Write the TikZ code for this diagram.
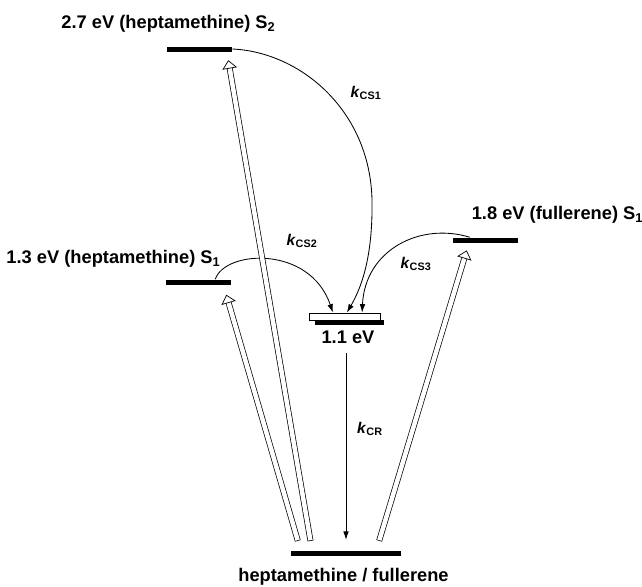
\documentclass[tikz,border=0pt]{standalone}
\usepackage{fontspec}
\setmainfont{Liberation Sans}
\usetikzlibrary{arrows.meta}

\newcommand*{\barLen}{1.625cm}
\newcommand*{\barHt}{0.125cm}
\newcommand*{\rateK}[1]{\textit{k}\textsubscript{#1}}

\tikzset{
	lvl/.style={fill=black, inner sep=0pt, minimum height=\barHt, minimum width=\barLen},
	lbl/.style={font=\fontsize{13}{15}\selectfont\bfseries, inner sep=1pt},
	rate/.style={font=\fontsize{11}{13}\selectfont\bfseries, inner sep=1pt},
	transfer/.style={line width=0.6pt, -{Latex[length=6pt,width=4pt]}},
	shaft/.style={double=white, double distance=3.2pt, line width=0.5pt, line cap=rect, shorten >=5pt},
	head/.style={white, line width=0.5pt, -{Triangle[open, black, fill=white, length=6pt, width=10.5pt]}}
}

\begin{document}
\begin{tikzpicture}[x=0.025cm, y=-0.025cm]
	\useasboundingbox (0,0) rectangle (642,586);

	% energy levels
	\node [lvl] (s2h) at (199.5,49) {};
	\node [lvl] (s1h) at (198.5,282) {};
	\node [lvl] (s1f) at (485.5,240) {};
	\node [lvl, minimum width=1.725cm] (csbar) at (349.5,322.5) {};
	\node [draw, fill=white, line width=0.6pt, inner sep=0pt, minimum width=1.775cm, minimum height=0.175cm] (cs) at (344.5,316.5) {};
	\node [lvl, minimum width=2.725cm] (gnd) at (346,553) {};

	% level labels
	\node [lbl] (ls2h) at (168.5,24) {2.7 eV (heptamethine) S\textsubscript{2}};
	\node [lbl] (ls1h) at (113.5,259) {1.3 eV (heptamethine) S\textsubscript{1}};
	\node [lbl] (ls1f) at (557.5,214.5) {1.8 eV (fullerene) S\textsubscript{1}};
	\node [lbl] (lcs) at (348,337) {1.1 eV};
	\node [lbl] (lgnd) at (343.5,577) {heptamethine / fullerene};

	% rate labels
	\node [rate] (kcs1) at (366,93) {\rateK{CS1}};
	\node [rate] (kcs2) at (302,241) {\rateK{CS2}};
	\node [rate] (kcs3) at (416,264) {\rateK{CS3}};
	\node [rate] (kcr) at (370,429) {\rateK{CR}};

	% charge separation / recombination
	\draw [transfer] (s2h.east) .. controls (300,52) and (370,110) .. (372,200) .. controls (373,260) and (360,290) .. ([xshift=0.06cm]cs.north);
	\draw [transfer] ([xshift=-0.4cm]s1h.north east) .. controls (225,250) and (310,245) .. ([xshift=-0.29cm]cs.north);
	\draw [transfer] ([xshift=0.425cm]s1f.north west) .. controls (420,222) and (365,250) .. ([xshift=0.44cm]cs.north);
	\draw [transfer] ([yshift=-0.2cm]lcs.south -| gnd.north) -- ([yshift=0.26cm]gnd.north);

	% excitation
	\coordinate (t1) at (297,538);
	\coordinate (t2) at (310,538);
	\coordinate (t3) at (380,538);
	\foreach \tl/\nd/\dx/\dy in {t1/s1h.south east/-0.125/-0.25, t2/s2h.south east/-0.1/-0.21, t3/s1f.south west/0.35/-0.19} {
		\draw [shaft] (\tl) -- ([xshift=\dx cm, yshift=\dy cm]\nd);
		\draw [head] (\tl) -- ([xshift=\dx cm, yshift=\dy cm]\nd);
	}

	%\draw [step=1.0,gray!30] (0,0) grid (642,586);
\end{tikzpicture}
\end{document}
